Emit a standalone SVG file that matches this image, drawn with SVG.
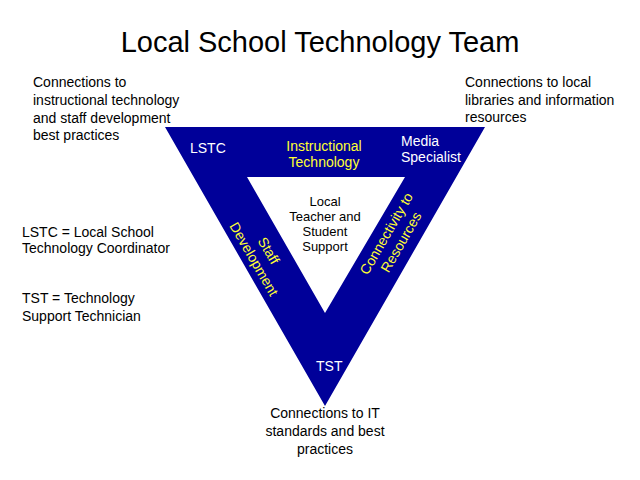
<svg xmlns="http://www.w3.org/2000/svg" width="640" height="480" viewBox="0 0 640 480">
<style>
text{font-family:"Liberation Sans",Arial,sans-serif;}
.t{font-size:14px;fill:#000;}
.s{font-size:13px;fill:#000;}
.w{font-size:14px;fill:#fff;}
.y{font-size:14px;fill:#ffff33;}
.c{text-anchor:middle;}
.title{font-size:29px;fill:#000;text-anchor:middle;}
</style>
<rect width="640" height="480" fill="#fff"/>
<text class="title" x="320" y="52">Local School Technology Team</text>
<g id="triangle">
<path d="M165,127 L485,127 L325,406 Z M247,177 L325,313 L405,177 Z" fill="#000099" fill-rule="evenodd"/>
</g>
<g id="inner">
<text class="s c" x="325" y="206">Local</text>
<text class="s c" x="325" y="221">Teacher and</text>
<text class="s c" x="325" y="236">Student</text>
<text class="s c" x="325" y="251">Support</text>
</g>
<g id="lstc"><text class="w" x="190" y="153">LSTC</text></g>
<g id="instr">
<text class="y c" x="324" y="151">Instructional</text>
<text class="y c" x="324" y="167">Technology</text>
</g>
<g id="media">
<text class="w" x="401" y="146">Media</text>
<text class="w" x="401" y="162">Specialist</text>
</g>
<g id="staff" transform="translate(261,255) rotate(60)">
<text class="y c" x="0" y="-4">Staff</text>
<text class="y c" x="0" y="13">Development</text>
</g>
<g id="conn" transform="translate(394,238) rotate(-60)">
<text class="y c" x="0" y="-4">Connectivity to</text>
<text class="y c" x="0" y="13">Resources</text>
</g>
<g id="tst"><text class="w" x="316" y="371">TST</text></g>
<g id="topleft">
<text class="t" x="33" y="87">Connections to</text>
<text class="t" x="33" y="105">instructional technology</text>
<text class="t" x="33" y="123">and staff development</text>
<text class="t" x="33" y="140">best practices</text>
</g>
<g id="topright">
<text class="t" x="465" y="87">Connections to local</text>
<text class="t" x="465" y="105">libraries and information</text>
<text class="t" x="465" y="122">resources</text>
</g>
<g id="legend">
<text class="t" x="22" y="237">LSTC = Local School</text>
<text class="t" x="22" y="253">Technology Coordinator</text>
<text class="t" x="22" y="303">TST = Technology</text>
<text class="t" x="22" y="321">Support Technician</text>
</g>
<g id="bottom">
<text class="t c" x="325" y="418">Connections to IT</text>
<text class="t c" x="325" y="436">standards and best</text>
<text class="t c" x="325" y="454">practices</text>
</g>
<g id="connectors"></g>
</svg>
